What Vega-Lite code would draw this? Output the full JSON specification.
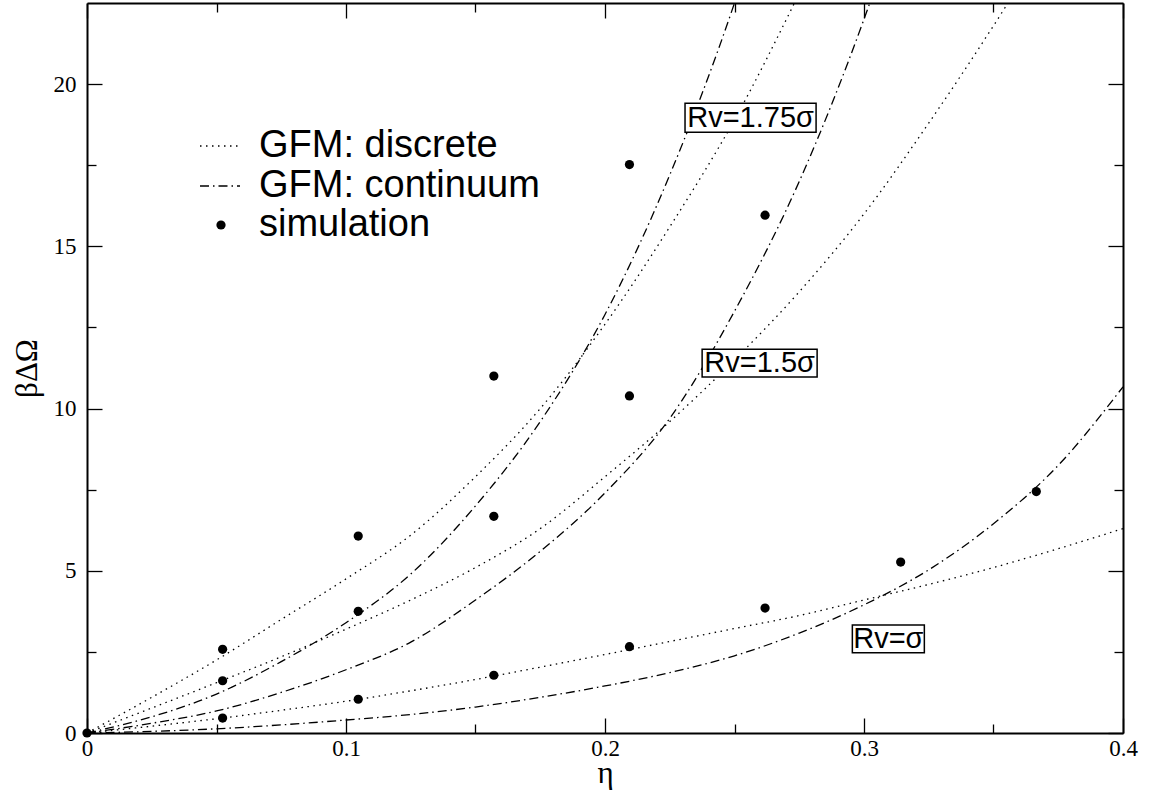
{
  "$schema": "https://vega.github.io/schema/vega-lite/v6.json",
  "width": 1036,
  "height": 730,
  "autosize": {"type": "none"},
  "padding": {"left": 87, "top": 3, "right": 32, "bottom": 66},
  "background": "white",
  "config": {
    "view": {"stroke": null},
    "axis": {
      "domainColor": "black", "domainWidth": 2, "tickColor": "black", "tickWidth": 1.3,
      "labelColor": "black", "titleColor": "black", "labelFont": "Liberation Serif", "titleFont": "Liberation Serif",
      "labelFontSize": 23, "titleFontSize": 31, "titleFontWeight": "normal", "grid": false,
      "labelOverlap": false, "labelFlush": false
    },
    "legend": {
      "labelFont": "Liberation Sans", "labelFontSize": 38, "labelColor": "black", "labelLimit": 0,
      "symbolStrokeWidth": 1.3, "symbolStrokeColor": "black", "symbolFillColor": "black",
      "rowPadding": -3.5, "padding": 0
    }
  },
  "datasets": {
    "curves": [
      {"rv": "s1", "kind": "GFM: discrete", "eta": 0, "value": 0},
      {"rv": "s1", "kind": "GFM: discrete", "eta": 0.025, "value": 0.21},
      {"rv": "s1", "kind": "GFM: discrete", "eta": 0.05, "value": 0.44},
      {"rv": "s1", "kind": "GFM: discrete", "eta": 0.075, "value": 0.7},
      {"rv": "s1", "kind": "GFM: discrete", "eta": 0.1, "value": 0.98},
      {"rv": "s1", "kind": "GFM: discrete", "eta": 0.125, "value": 1.3},
      {"rv": "s1", "kind": "GFM: discrete", "eta": 0.15, "value": 1.65},
      {"rv": "s1", "kind": "GFM: discrete", "eta": 0.175, "value": 2.03},
      {"rv": "s1", "kind": "GFM: discrete", "eta": 0.2, "value": 2.42},
      {"rv": "s1", "kind": "GFM: discrete", "eta": 0.225, "value": 2.82},
      {"rv": "s1", "kind": "GFM: discrete", "eta": 0.25, "value": 3.22},
      {"rv": "s1", "kind": "GFM: discrete", "eta": 0.275, "value": 3.62},
      {"rv": "s1", "kind": "GFM: discrete", "eta": 0.3, "value": 4.1},
      {"rv": "s1", "kind": "GFM: discrete", "eta": 0.325, "value": 4.58},
      {"rv": "s1", "kind": "GFM: discrete", "eta": 0.35, "value": 5.1},
      {"rv": "s1", "kind": "GFM: discrete", "eta": 0.375, "value": 5.68},
      {"rv": "s1", "kind": "GFM: discrete", "eta": 0.4, "value": 6.3},

      {"rv": "s1", "kind": "GFM: continuum", "eta": 0, "value": 0},
      {"rv": "s1", "kind": "GFM: continuum", "eta": 0.025, "value": 0.05},
      {"rv": "s1", "kind": "GFM: continuum", "eta": 0.05, "value": 0.13},
      {"rv": "s1", "kind": "GFM: continuum", "eta": 0.075, "value": 0.25},
      {"rv": "s1", "kind": "GFM: continuum", "eta": 0.1, "value": 0.4},
      {"rv": "s1", "kind": "GFM: continuum", "eta": 0.125, "value": 0.57},
      {"rv": "s1", "kind": "GFM: continuum", "eta": 0.15, "value": 0.8},
      {"rv": "s1", "kind": "GFM: continuum", "eta": 0.175, "value": 1.1},
      {"rv": "s1", "kind": "GFM: continuum", "eta": 0.2, "value": 1.45},
      {"rv": "s1", "kind": "GFM: continuum", "eta": 0.225, "value": 1.86},
      {"rv": "s1", "kind": "GFM: continuum", "eta": 0.25, "value": 2.38},
      {"rv": "s1", "kind": "GFM: continuum", "eta": 0.275, "value": 3.08},
      {"rv": "s1", "kind": "GFM: continuum", "eta": 0.3, "value": 3.95},
      {"rv": "s1", "kind": "GFM: continuum", "eta": 0.325, "value": 5.03},
      {"rv": "s1", "kind": "GFM: continuum", "eta": 0.35, "value": 6.45},
      {"rv": "s1", "kind": "GFM: continuum", "eta": 0.375, "value": 8.25},
      {"rv": "s1", "kind": "GFM: continuum", "eta": 0.4, "value": 10.67},

      {"rv": "s15", "kind": "GFM: discrete", "eta": 0, "value": 0},
      {"rv": "s15", "kind": "GFM: discrete", "eta": 0.025, "value": 0.77},
      {"rv": "s15", "kind": "GFM: discrete", "eta": 0.05, "value": 1.55},
      {"rv": "s15", "kind": "GFM: discrete", "eta": 0.075, "value": 2.35},
      {"rv": "s15", "kind": "GFM: discrete", "eta": 0.1, "value": 3.2},
      {"rv": "s15", "kind": "GFM: discrete", "eta": 0.125, "value": 4.1},
      {"rv": "s15", "kind": "GFM: discrete", "eta": 0.15, "value": 5.1},
      {"rv": "s15", "kind": "GFM: discrete", "eta": 0.175, "value": 6.3},
      {"rv": "s15", "kind": "GFM: discrete", "eta": 0.2, "value": 7.9},
      {"rv": "s15", "kind": "GFM: discrete", "eta": 0.225, "value": 9.6},
      {"rv": "s15", "kind": "GFM: discrete", "eta": 0.25, "value": 11.5},
      {"rv": "s15", "kind": "GFM: discrete", "eta": 0.275, "value": 13.6},
      {"rv": "s15", "kind": "GFM: discrete", "eta": 0.3, "value": 16.0},
      {"rv": "s15", "kind": "GFM: discrete", "eta": 0.325, "value": 18.8},
      {"rv": "s15", "kind": "GFM: discrete", "eta": 0.35, "value": 21.8},
      {"rv": "s15", "kind": "GFM: discrete", "eta": 0.375, "value": 25.0},

      {"rv": "s15", "kind": "GFM: continuum", "eta": 0, "value": 0},
      {"rv": "s15", "kind": "GFM: continuum", "eta": 0.025, "value": 0.3},
      {"rv": "s15", "kind": "GFM: continuum", "eta": 0.05, "value": 0.68},
      {"rv": "s15", "kind": "GFM: continuum", "eta": 0.075, "value": 1.25},
      {"rv": "s15", "kind": "GFM: continuum", "eta": 0.1, "value": 1.95},
      {"rv": "s15", "kind": "GFM: continuum", "eta": 0.125, "value": 2.8},
      {"rv": "s15", "kind": "GFM: continuum", "eta": 0.15, "value": 4.1},
      {"rv": "s15", "kind": "GFM: continuum", "eta": 0.175, "value": 5.6},
      {"rv": "s15", "kind": "GFM: continuum", "eta": 0.2, "value": 7.4},
      {"rv": "s15", "kind": "GFM: continuum", "eta": 0.225, "value": 9.7},
      {"rv": "s15", "kind": "GFM: continuum", "eta": 0.25, "value": 13.0},
      {"rv": "s15", "kind": "GFM: continuum", "eta": 0.275, "value": 17.0},
      {"rv": "s15", "kind": "GFM: continuum", "eta": 0.3, "value": 22.0},
      {"rv": "s15", "kind": "GFM: continuum", "eta": 0.325, "value": 28.0},

      {"rv": "s175", "kind": "GFM: discrete", "eta": 0, "value": 0},
      {"rv": "s175", "kind": "GFM: discrete", "eta": 0.025, "value": 1.1},
      {"rv": "s175", "kind": "GFM: discrete", "eta": 0.05, "value": 2.25},
      {"rv": "s175", "kind": "GFM: discrete", "eta": 0.075, "value": 3.5},
      {"rv": "s175", "kind": "GFM: discrete", "eta": 0.1, "value": 4.75},
      {"rv": "s175", "kind": "GFM: discrete", "eta": 0.125, "value": 6.1},
      {"rv": "s175", "kind": "GFM: discrete", "eta": 0.15, "value": 7.9},
      {"rv": "s175", "kind": "GFM: discrete", "eta": 0.175, "value": 10.0},
      {"rv": "s175", "kind": "GFM: discrete", "eta": 0.2, "value": 12.6},
      {"rv": "s175", "kind": "GFM: discrete", "eta": 0.225, "value": 15.6},
      {"rv": "s175", "kind": "GFM: discrete", "eta": 0.25, "value": 18.9},
      {"rv": "s175", "kind": "GFM: discrete", "eta": 0.275, "value": 22.8},
      {"rv": "s175", "kind": "GFM: discrete", "eta": 0.3, "value": 27.0},

      {"rv": "s175", "kind": "GFM: continuum", "eta": 0, "value": 0},
      {"rv": "s175", "kind": "GFM: continuum", "eta": 0.025, "value": 0.5},
      {"rv": "s175", "kind": "GFM: continuum", "eta": 0.05, "value": 1.2},
      {"rv": "s175", "kind": "GFM: continuum", "eta": 0.075, "value": 2.2},
      {"rv": "s175", "kind": "GFM: continuum", "eta": 0.1, "value": 3.4},
      {"rv": "s175", "kind": "GFM: continuum", "eta": 0.125, "value": 4.9},
      {"rv": "s175", "kind": "GFM: continuum", "eta": 0.15, "value": 7.0},
      {"rv": "s175", "kind": "GFM: continuum", "eta": 0.175, "value": 9.6},
      {"rv": "s175", "kind": "GFM: continuum", "eta": 0.2, "value": 12.9},
      {"rv": "s175", "kind": "GFM: continuum", "eta": 0.225, "value": 17.2},
      {"rv": "s175", "kind": "GFM: continuum", "eta": 0.25, "value": 22.5},
      {"rv": "s175", "kind": "GFM: continuum", "eta": 0.275, "value": 29.0}
    ],
    "sim": [
      {"kind": "simulation", "eta": 0, "value": 0},
      {"kind": "simulation", "eta": 0.05236, "value": 0.46},
      {"kind": "simulation", "eta": 0.10472, "value": 1.04},
      {"kind": "simulation", "eta": 0.15708, "value": 1.78},
      {"kind": "simulation", "eta": 0.20944, "value": 2.66},
      {"kind": "simulation", "eta": 0.2618, "value": 3.85},
      {"kind": "simulation", "eta": 0.31416, "value": 5.27},
      {"kind": "simulation", "eta": 0.36652, "value": 7.44},
      {"kind": "simulation", "eta": 0.05236, "value": 1.61},
      {"kind": "simulation", "eta": 0.10472, "value": 3.75},
      {"kind": "simulation", "eta": 0.15708, "value": 6.68},
      {"kind": "simulation", "eta": 0.20944, "value": 10.39},
      {"kind": "simulation", "eta": 0.2618, "value": 15.96},
      {"kind": "simulation", "eta": 0.05236, "value": 2.58},
      {"kind": "simulation", "eta": 0.10472, "value": 6.07},
      {"kind": "simulation", "eta": 0.15708, "value": 11.0},
      {"kind": "simulation", "eta": 0.20944, "value": 17.52}
    ],
    "labels": [
      {"label": "Rv=1.75σ", "x1": 0.2309, "x2": 0.2815, "y1": 18.52, "y2": 19.41, "cx": 0.2562, "cy": 18.97},
      {"label": "Rv=1.5σ", "x1": 0.2375, "x2": 0.2819, "y1": 10.97, "y2": 11.83, "cx": 0.2597, "cy": 11.4},
      {"label": "Rv=σ", "x1": 0.2955, "x2": 0.3233, "y1": 2.47, "y2": 3.33, "cx": 0.3094, "cy": 2.9}
    ]
  },
  "layer": [
    {
      "data": {"name": "curves"},
      "mark": {"type": "line", "clip": true, "strokeWidth": 1.3, "color": "black", "interpolate": "monotone"},
      "encoding": {
        "x": {
          "field": "eta", "type": "quantitative",
          "scale": {"domain": [0, 0.4], "nice": false, "zero": false},
          "title": "η",
          "axis": {
            "orient": "bottom",
            "values": [0, 0.05, 0.1, 0.15, 0.2, 0.25, 0.3, 0.35, 0.4],
            "tickSize": {"condition": {"test": "round(datum.value*20) % 2 === 0", "value": -15}, "value": -9},
            "labelExpr": "round(datum.value*20) % 2 === 0 ? format(datum.value, '.1~f') : ''",
            "labelPadding": 19,
            "titlePadding": -8
          }
        },
        "y": {
          "field": "value", "type": "quantitative",
          "scale": {"domain": [0, 22.5], "nice": false},
          "title": "βΔΩ",
          "axis": {
            "orient": "left",
            "values": [0, 2.5, 5, 7.5, 10, 12.5, 15, 17.5, 20],
            "tickSize": {"condition": {"test": "round(datum.value/2.5) % 2 === 0", "value": -15}, "value": -9},
            "labelExpr": "round(datum.value/2.5) % 2 === 0 ? format(datum.value, 'd') : ''",
            "labelPadding": 26,
            "titlePadding": 10
          }
        },
        "strokeDash": {
          "field": "kind", "type": "nominal",
          "scale": {"domain": ["GFM: discrete", "GFM: continuum"], "range": [[1.5, 4.5], [9, 4, 1.5, 4]]},
          "legend": {
            "orient": "none", "legendX": 112, "legendY": 122, "title": null,
            "symbolType": "stroke", "symbolSize": 1600, "labelOffset": 18
          }
        },
        "detail": {"field": "rv"}
      }
    },
    {
      "data": {"name": "sim"},
      "mark": {"type": "point", "filled": true, "color": "black", "opacity": 1, "size": 85},
      "encoding": {
        "x": {
          "field": "eta", "type": "quantitative",
          "axis": {
            "orient": "top", "labels": false, "title": null,
            "values": [0, 0.05, 0.1, 0.15, 0.2, 0.25, 0.3, 0.35, 0.4],
            "tickSize": {"condition": {"test": "round(datum.value*20) % 2 === 0", "value": -15}, "value": -9}
          }
        },
        "y": {
          "field": "value", "type": "quantitative",
          "axis": {
            "orient": "right", "labels": false, "title": null,
            "values": [0, 2.5, 5, 7.5, 10, 12.5, 15, 17.5, 20],
            "tickSize": {"condition": {"test": "round(datum.value/2.5) % 2 === 0", "value": -15}, "value": -9}
          }
        },
        "shape": {
          "field": "kind", "type": "nominal",
          "scale": {"domain": ["simulation"], "range": ["circle"]},
          "legend": {
            "orient": "none", "legendX": 115, "legendY": 203, "title": null,
            "symbolSize": 85, "labelOffset": 19
          }
        }
      }
    },
    {
      "data": {"name": "labels"},
      "mark": {"type": "rect", "fill": "white", "stroke": "black", "strokeWidth": 1.5},
      "encoding": {
        "x": {"field": "x1", "type": "quantitative", "axis": null},
        "x2": {"field": "x2"},
        "y": {"field": "y1", "type": "quantitative", "axis": null},
        "y2": {"field": "y2"}
      }
    },
    {
      "data": {"name": "labels"},
      "mark": {"type": "text", "font": "Liberation Sans", "fontSize": 29, "color": "black", "baseline": "middle", "align": "center"},
      "encoding": {
        "x": {"field": "cx", "type": "quantitative", "axis": null},
        "y": {"field": "cy", "type": "quantitative", "axis": null},
        "text": {"field": "label"}
      }
    }
  ],
  "resolve": {"axis": {"x": "independent", "y": "independent"}}
}
